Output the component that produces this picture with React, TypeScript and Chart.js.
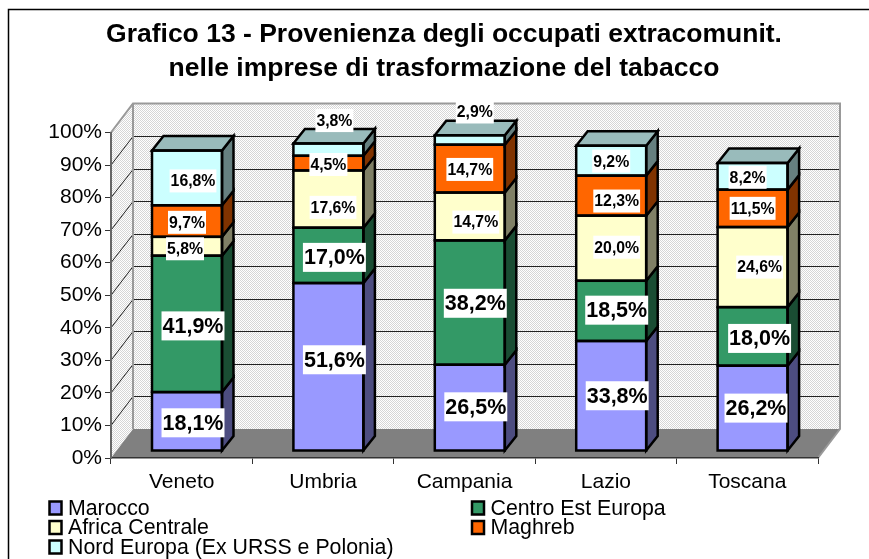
import React, { useEffect, useRef } from "react";
import { Chart, registerables } from "chart.js";

Chart.register(...registerables);

const categories = ["Veneto", "Umbria", "Campania", "Lazio", "Toscana"];
const marocco = [18.1, 51.6, 26.5, 33.8, 26.2];
const centroEstEuropa = [41.9, 17.0, 38.2, 18.5, 18.0];
const africaCentrale = [5.8, 17.6, 14.7, 20.0, 24.6];
const maghreb = [9.7, 4.5, 14.7, 12.3, 11.5];
const nordEuropa = [16.8, 3.8, 2.9, 9.2, 8.2];
const titleLines = [
  "Grafico 13 - Provenienza degli occupati extracomunit.",
  "nelle imprese di trasformazione del tabacco",
];

const FONT = '"Liberation Sans", Arial, sans-serif';
const FRONT_DX = 5.3;
const FRONT_DY = -7;
const BAR_DX = 11.5;
const BAR_DY = 14.5;
const WALL_DX = 22;
const WALL_DY = 29;

const sideColors = ["#4D4D80", "#1A4D33", "#808066", "#803300", "#668080"];
const topColor = "#99BBBB";

// hand placement of the data labels, per series then per category
const labelNudges: [number, number][][] = [
  [[0, -0.5], [0, -9], [0, -2.8], [0, -2], [-2.6, -2]],
  [[0, 0], [0, 0], [-0.5, -1.3], [-0.5, -2.7], [1, 0]],
  [[-8, 0.5], [-1.4, 6.3], [0, 3.6], [-0.5, -3], [1, -2]],
  [[-6, -0.7], [-6, -0.6], [-6, -1.2], [-0.5, 3.4], [-6, -2]],
  [[0, 1], [0, -31], [-1, -30], [-6, -1.5], [-11, -1]],
];

function makeDither(): CanvasPattern | string {
  const c = document.createElement("canvas");
  c.width = 2;
  c.height = 2;
  const g = c.getContext("2d");
  if (!g) return "#ebebeb";
  g.fillStyle = "#ffffff";
  g.fillRect(0, 0, 2, 2);
  g.fillStyle = "#d6d6d6";
  g.fillRect(0, 0, 1, 1);
  g.fillRect(1, 1, 1, 1);
  return g.createPattern(c, "repeat") || "#ebebeb";
}

function poly(ctx: CanvasRenderingContext2D, pts: number[][]) {
  ctx.beginPath();
  pts.forEach((p, i) => (i ? ctx.lineTo(p[0], p[1]) : ctx.moveTo(p[0], p[1])));
  ctx.closePath();
}

const chart3dPlugin = {
  id: "chart3d",
  beforeDraw(chart: any) {
    const { ctx, chartArea: a, scales, width, height } = chart;
    ctx.save();
    ctx.fillStyle = "#ffffff";
    ctx.fillRect(0, 0, width, height);
    // outer frame
    ctx.strokeStyle = "#000000";
    ctx.lineWidth = 1.5;
    ctx.beginPath();
    ctx.moveTo(8.5, height);
    ctx.lineTo(8.5, 9.5);
    ctx.lineTo(width, 9.5);
    ctx.stroke();

    const l = a.left, r = a.right, t = a.top, b = a.bottom;
    const d = makeDither();
    ctx.fillStyle = d;
    ctx.fillRect(l + WALL_DX, t - WALL_DY, r - l, b - t);
    poly(ctx, [[l, t], [l + WALL_DX, t - WALL_DY], [l + WALL_DX, b - WALL_DY], [l, b]]);
    ctx.fill();
    // floor
    ctx.fillStyle = "#808080";
    poly(ctx, [[l, b], [l + WALL_DX, b - WALL_DY], [r + WALL_DX, b - WALL_DY], [r, b]]);
    ctx.fill();
    // grid lines
    ctx.strokeStyle = "#222222";
    ctx.lineWidth = 1;
    for (const tick of scales.y.ticks) {
      if (tick.value === 0 || tick.value >= 100) continue;
      const y = scales.y.getPixelForValue(tick.value);
      const by = Math.round(y - WALL_DY) + 0.5;
      ctx.beginPath();
      ctx.moveTo(l, y);
      ctx.lineTo(l + WALL_DX, by);
      ctx.lineTo(r + WALL_DX, by);
      ctx.stroke();
    }
    // wall outline
    ctx.strokeStyle = "#999999";
    ctx.lineWidth = 2;
    ctx.beginPath();
    ctx.moveTo(l, t);
    ctx.lineTo(l + WALL_DX, t - WALL_DY);
    ctx.lineTo(r + WALL_DX, t - WALL_DY);
    ctx.lineTo(r + WALL_DX, b - WALL_DY);
    ctx.lineTo(r, b);
    ctx.moveTo(l + WALL_DX, t - WALL_DY);
    ctx.lineTo(l + WALL_DX, b - WALL_DY);
    ctx.stroke();
    ctx.restore();
  },
  beforeDatasetsDraw(chart: any) {
    chart.ctx.save();
    chart.ctx.translate(FRONT_DX, FRONT_DY);
  },
  afterDatasetsDraw(chart: any) {
    const { ctx, data } = chart;
    // still translated to the bars' front plane
    const last = data.datasets.length - 1;
    ctx.lineWidth = 2.5;
    ctx.lineJoin = "miter";
    ctx.strokeStyle = "#000000";
    data.datasets.forEach((_ds: any, di: number) => {
      chart.getDatasetMeta(di).data.forEach((bar: any) => {
        const x1 = bar.x - bar.width / 2, x2 = bar.x + bar.width / 2;
        const yt = bar.y, yb = bar.base;
        ctx.fillStyle = sideColors[di];
        poly(ctx, [[x2, yt], [x2 + BAR_DX, yt - BAR_DY], [x2 + BAR_DX, yb - BAR_DY], [x2, yb]]);
        ctx.fill();
        ctx.stroke();
        if (di === last) {
          ctx.fillStyle = topColor;
          poly(ctx, [[x1, yt], [x1 + BAR_DX, yt - BAR_DY], [x2 + BAR_DX, yt - BAR_DY], [x2, yt]]);
          ctx.fill();
          ctx.stroke();
        }
        ctx.strokeRect(x1, yt, x2 - x1, yb - yt);
      });
    });
    // data labels
    data.datasets.forEach((ds: any, di: number) => {
      const big = di < 2;
      ctx.font = `bold ${big ? 21.5 : 15.8}px ${FONT}`;
      ctx.textAlign = "center";
      ctx.textBaseline = "middle";
      chart.getDatasetMeta(di).data.forEach((bar: any, i: number) => {
        const text = ds.data[i].toFixed(1).replace(".", ",") + "%";
        const [nx, ny] = labelNudges[di][i];
        const cx = bar.x + 6 + nx;
        const cy = (bar.y + bar.base) / 2 + 2 + ny;
        const w = ctx.measureText(text).width + 2;
        const h = big ? 29 : 23;
        ctx.fillStyle = "#ffffff";
        ctx.fillRect(cx - w / 2, cy - h / 2, w, h);
        ctx.fillStyle = "#000000";
        ctx.fillText(text, cx, cy + 1);
      });
    });
    ctx.restore();
  },
  afterDraw(chart: any) {
    const { ctx, data } = chart;
    // two-column legend
    const slots = [
      [48.5, 508],
      [471, 508],
      [48.5, 527.5],
      [471, 527.5],
      [48.5, 547],
    ];
    ctx.save();
    ctx.font = `21.3px ${FONT}`;
    ctx.textAlign = "left";
    ctx.textBaseline = "middle";
    data.datasets.forEach((ds: any, di: number) => {
      const [x, y] = slots[di];
      ctx.fillStyle = ds.backgroundColor;
      ctx.fillRect(x + 1, y - 6.5, 12, 13);
      ctx.strokeStyle = "#000000";
      ctx.lineWidth = 2.5;
      ctx.strokeRect(x + 1, y - 6.5, 12, 13);
      ctx.fillStyle = "#000000";
      ctx.fillText(ds.label, x + 19.5, y + 1);
    });
    ctx.restore();
  },
};

export default function App() {
  const ref = useRef<HTMLCanvasElement | null>(null);
  useEffect(() => {
    if (!ref.current) return;
    const series = [
      { label: "Marocco", data: marocco, backgroundColor: "#9999FF" },
      { label: "Centro Est Europa", data: centroEstEuropa, backgroundColor: "#339966" },
      { label: "Africa Centrale", data: africaCentrale, backgroundColor: "#FFFFCC" },
      { label: "Maghreb", data: maghreb, backgroundColor: "#FF6600" },
      { label: "Nord Europa (Ex URSS e Polonia)", data: nordEuropa, backgroundColor: "#CCFFFF" },
    ];
    const chart = new Chart(ref.current, {
      type: "bar",
      data: {
        labels: categories,
        datasets: series.map((s) => ({
          ...s,
          borderWidth: 0,
          clip: false,
          barPercentage: 0.495,
          categoryPercentage: 1,
        })),
      },
      plugins: [chart3dPlugin],
      options: {
        responsive: false,
        animation: false,
        devicePixelRatio: 1,
        layout: { padding: { left: 19, right: 0, top: 0, bottom: 0 } },
        plugins: {
          legend: { display: false },
          tooltip: { enabled: false },
          title: {
            display: true,
            text: titleLines,
            color: "#000000",
            font: { family: FONT, size: 26.5, weight: "bold", lineHeight: 34 / 26.5 },
            padding: { top: 18, bottom: 46.5 },
          },
        },
        scales: {
          x: {
            stacked: true,
            afterFit: (s: any) => {
              s.height = 101;
            },
            grid: { drawOnChartArea: false, color: "#333333", tickLength: 6, lineWidth: 1 },
            border: { color: "#333333", width: 1.5 },
            ticks: { color: "#000000", font: { family: FONT, size: 21 }, padding: 6, maxRotation: 0 },
          },
          y: {
            stacked: true,
            min: 0,
            max: 100,
            afterFit: (s: any) => {
              s.width = 92;
            },
            grid: { drawOnChartArea: false, color: "#333333", tickLength: 6, lineWidth: 1 },
            border: { color: "#666666", width: 2 },
            ticks: {
              stepSize: 10,
              autoSkip: false,
              color: "#000000",
              font: { family: FONT, size: 21 },
              padding: 3,
              callback: (v: any) => `${v}%`,
            },
          },
          // empty right-hand axis: keeps the plot clear of the 3D depth on the right
          depth: {
            position: "right",
            display: true,
            afterFit: (s: any) => {
              s.width = 51;
            },
            grid: { display: false },
            border: { display: false },
            ticks: { display: false },
          },
        },
      },
    });
    return () => chart.destroy();
  }, []);
  return (
    <canvas
      ref={ref}
      width={869}
      height={559}
      style={{ position: "absolute", left: 0, top: 0, width: 869, height: 559, display: "block" }}
    />
  );
}
